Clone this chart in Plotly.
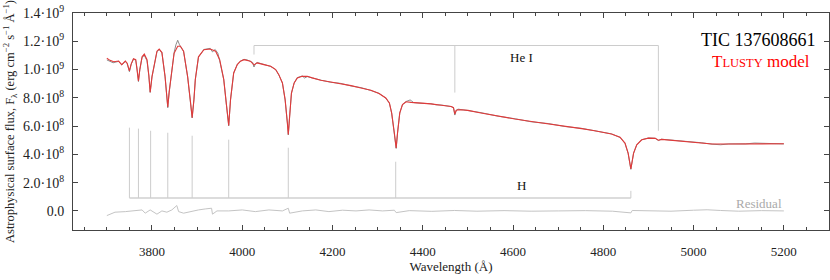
import plotly.graph_objects as go

SCALE = 1e8  # flux values below are in units of 1e8 erg cm^-2 s^-1 A^-1

# TLUSTY model spectrum
model_wave = [3700, 3707, 3715, 3726, 3733, 3741, 3745, 3750, 3754, 3759, 3764, 3767, 3770, 3773,
              3778, 3783, 3789, 3793, 3796, 3800, 3805, 3811, 3816, 3822, 3829, 3832, 3835, 3838,
              3842, 3849, 3857, 3863, 3870, 3879, 3885, 3889, 3893, 3896, 3903, 3915, 3929, 3941,
              3950, 3959, 3965, 3970, 3974, 3978, 3981, 3989, 3996, 4004, 4011, 4018, 4026, 4033,
              4048, 4063, 4074, 4081, 4089, 4095, 4100, 4102, 4105, 4109, 4115, 4122, 4133, 4144,
              4155, 4174, 4196, 4218, 4241, 4263, 4285, 4303, 4318, 4326, 4331, 4337, 4341, 4344,
              4349, 4355, 4363, 4374, 4396, 4418, 4441, 4463, 4468, 4471, 4474, 4478, 4485, 4500,
              4529, 4567, 4604, 4641, 4678, 4715, 4752, 4781, 4818, 4837, 4848, 4855, 4861, 4867,
              4874, 4885, 4900, 4915, 4922, 4929, 4966, 5003, 5018, 5041, 5078, 5115, 5152, 5200]
model_flux = [10.8, 10.65, 10.55, 10.6, 10.35, 10.6, 10.45, 9.9, 10.4, 10.76, 10.7, 10.1, 9.2, 10.0,
              10.9, 11.1, 10.7, 9.6, 8.4, 9.5, 10.45, 11.3, 11.45, 11.2, 9.5, 8.4, 7.35, 8.4,
              9.5, 11.15, 11.65, 11.65, 11.3, 9.5, 7.8, 6.6, 7.9, 9.3, 10.9, 11.4, 11.45, 11.3,
              10.7, 9.3, 7.5, 6.05, 7.87, 9.05, 9.76, 10.35, 10.59, 10.7, 10.66, 10.59, 10.33, 10.47,
              10.35, 10.23, 10.0, 9.64, 9.05, 7.87, 6.22, 5.4, 6.69, 8.34, 9.05, 9.41, 9.52, 9.52,
              9.41, 9.24, 9.12, 9.0, 8.86, 8.7, 8.53, 8.3, 7.99, 7.64, 6.93, 5.51, 4.45, 5.51,
              6.93, 7.52, 7.72, 7.68, 7.64, 7.57, 7.47, 7.39, 7.3, 6.85, 7.1, 7.15, 7.16, 7.11,
              6.93, 6.69, 6.5, 6.33, 6.17, 5.98, 5.82, 5.67, 5.44, 5.22, 4.8, 4.09, 2.98, 4.09,
              4.68, 5.03, 5.15, 5.13, 5.0, 5.06, 4.96, 4.84, 4.77, 4.73, 4.73, 4.75, 4.77, 4.75]

# Observed spectrum (TIC 137608661)
obs_wave = [3700, 3707, 3714, 3726, 3733, 3741, 3745, 3750, 3754, 3759, 3764, 3767, 3770, 3773,
            3778, 3783, 3789, 3793, 3796, 3800, 3805, 3811, 3816, 3822, 3829, 3832, 3835, 3838,
            3842, 3849, 3853, 3857, 3861, 3866, 3870, 3879, 3885, 3889, 3893, 3896, 3903, 3915,
            3929, 3934, 3940, 3946, 3950, 3959, 3965, 3970, 3974, 3978, 3981, 3989, 3996, 4004,
            4011, 4018, 4023, 4026, 4029, 4033, 4048, 4063, 4074, 4081, 4089, 4095, 4100, 4102,
            4105, 4109, 4115, 4122, 4133, 4138, 4144, 4155, 4174, 4196, 4218, 4241, 4263, 4285,
            4303, 4318, 4326, 4331, 4337, 4341, 4344, 4349, 4355, 4363, 4372, 4380, 4396, 4418,
            4430, 4441, 4463, 4468, 4471, 4474, 4478, 4485, 4500, 4529, 4550, 4567, 4604, 4641,
            4678, 4715, 4752, 4781, 4818, 4837, 4848, 4855, 4861, 4867, 4874, 4885, 4900, 4915,
            4922, 4929, 4966, 5003, 5018, 5041, 5060, 5078, 5115, 5135, 5152, 5180, 5200]
obs_flux = [10.68, 10.6, 10.48, 10.58, 10.33, 10.58, 10.42, 9.85, 10.38, 10.74, 10.66, 10.05, 9.15, 9.98,
            10.85, 11.0, 10.62, 9.55, 8.38, 9.48, 10.4, 11.25, 11.42, 11.2, 9.5, 8.35, 7.3, 8.35,
            9.5, 11.2, 11.75, 12.07, 11.75, 11.45, 11.28, 9.48, 7.78, 6.58, 7.88, 9.28, 10.88, 11.42,
            11.5, 11.25, 11.42, 11.15, 10.62, 9.28, 7.48, 6.02, 7.85, 9.05, 9.75, 10.36, 10.6, 10.72,
            10.68, 10.58, 10.5, 10.18, 10.4, 10.5, 10.38, 10.22, 10.0, 9.62, 9.05, 7.85, 6.2, 5.38,
            6.68, 8.32, 9.05, 9.43, 9.55, 9.4, 9.5, 9.4, 9.25, 9.1, 9.02, 8.84, 8.72, 8.52,
            8.32, 7.98, 7.62, 6.92, 5.48, 4.42, 5.5, 6.92, 7.52, 7.74, 7.85, 7.66, 7.62, 7.58,
            7.5, 7.49, 7.38, 7.3, 6.78, 7.12, 7.2, 7.18, 7.1, 6.95, 6.8, 6.7, 6.52, 6.3,
            6.18, 5.97, 5.84, 5.66, 5.45, 5.2, 4.78, 4.06, 2.94, 4.07, 4.67, 5.03, 5.16, 5.14,
            4.98, 5.07, 4.98, 4.88, 4.82, 4.72, 4.68, 4.74, 4.74, 4.8, 4.78, 4.8, 4.74]

# Residual (observed - model)
res_wave = [3700, 3718, 3741, 3763, 3778, 3785, 3796, 3811, 3822, 3833, 3844, 3855, 3859, 3870,
            3889, 3903, 3918, 3932, 3934, 3944, 3970, 4000, 4029, 4059, 4089, 4102, 4105, 4133,
            4163, 4192, 4222, 4252, 4281, 4311, 4337, 4341, 4370, 4420, 4470, 4520, 4580, 4640,
            4700, 4760, 4820, 4861, 4864, 4900, 4950, 5000, 5030, 5060, 5100, 5150, 5200]
res_flux = [-0.33, -0.09, -0.05, 0.0, 0.07, -0.16, 0.07, -0.23, 0.0, -0.09, 0.07, 0.38, -0.05, -0.16,
            0.0, 0.07, 0.14, 0.19, -0.23, 0.0, 0.0, 0.07, -0.05, 0.07, 0.0, 0.19, -0.16, 0.0,
            0.07, -0.05, 0.05, 0.0, 0.07, 0.0, 0.05, -0.12, 0.02, -0.03, 0.03, -0.02, 0.02, -0.02,
            0.0, 0.02, -0.02, -0.14, 0.03, 0.0, -0.02, 0.05, 0.08, 0.03, -0.02, 0.02, 0.0]

# Line identifications
h_lines = [3750, 3770, 3797, 3835, 3889, 3970, 4102, 4340, 4861]
h_tops = [5.89, 5.82, 5.67, 5.53, 5.32, 5.04, 4.47, 3.48, 1.42]
h_base = 0.92
he_lines = [4026, 4471, 4922]
he_bottoms = [11.06, 8.37, 5.67]
he_base = 11.7

x_ticks = [3800, 4000, 4200, 4400, 4600, 4800, 5000, 5200]
y_ticks = [0.0, 2.0, 4.0, 6.0, 8.0, 10.0, 12.0, 14.0]
y_ticktext = ["0.0", "2.0·10<sup>8</sup>", "4.0·10<sup>8</sup>", "6.0·10<sup>8</sup>",
              "8.0·10<sup>8</sup>", "1.0·10<sup>9</sup>", "1.2·10<sup>9</sup>", "1.4·10<sup>9</sup>"]

FONT = "Liberation Serif"

fig = go.Figure()
fig.add_trace(go.Scatter(x=res_wave, y=[v * SCALE for v in res_flux], mode="lines",
                         line=dict(color="#c4c4c4", width=1), name="Residual", showlegend=False))
fig.add_trace(go.Scatter(x=obs_wave, y=[v * SCALE for v in obs_flux], mode="lines",
                         line=dict(color="#707070", width=0.8), name="TIC 137608661", showlegend=False))
fig.add_trace(go.Scatter(x=model_wave, y=[v * SCALE for v in model_flux], mode="lines",
                         line=dict(color="#e03a3a", width=1.1), name="TLUSTY model",
                         showlegend=False))

shapes = []
# H bracket
shapes.append(dict(type="line", xref="x", yref="y", x0=h_lines[0], x1=h_lines[-1],
                   y0=h_base * SCALE, y1=h_base * SCALE, line=dict(color="#dcdcdc", width=2)))
for lam, top in zip(h_lines, h_tops):
    shapes.append(dict(type="line", xref="x", yref="y", x0=lam, x1=lam,
                       y0=h_base * SCALE, y1=top * SCALE, line=dict(color="#cccccc", width=1)))
# He I bracket
shapes.append(dict(type="line", xref="x", yref="y", x0=he_lines[0], x1=he_lines[-1],
                   y0=he_base * SCALE, y1=he_base * SCALE, line=dict(color="#cccccc", width=1)))
for lam, bot in zip(he_lines, he_bottoms):
    shapes.append(dict(type="line", xref="x", yref="y", x0=lam, x1=lam,
                       y0=he_base * SCALE, y1=bot * SCALE, line=dict(color="#cccccc", width=1)))

annotations = [
    dict(x=4618, y=10.85 * SCALE, xref="x", yref="y", text="He I", showarrow=False,
         font=dict(family=FONT, size=13, color="#111")),
    dict(x=4618, y=1.77 * SCALE, xref="x", yref="y", text="H", showarrow=False,
         font=dict(family=FONT, size=13, color="#111")),
    dict(x=5200, y=0.55 * SCALE, xref="x", yref="y", text="Residual", showarrow=False,
         xanchor="right", font=dict(family=FONT, size=13, color="#aaaaaa")),
    dict(x=0.985, y=0.93, xref="paper", yref="paper", text="TIC 137608661", showarrow=False,
         xanchor="right", font=dict(family=FONT, size=18, color="black")),
    dict(x=0.978, y=0.83, xref="paper", yref="paper",
         text="T<span style='font-size:12.5px'>LUSTY</span> model", showarrow=False,
         xanchor="right", font=dict(family=FONT, size=17, color="red")),
]

axis_common = dict(showgrid=False, zeroline=False, showline=True, linecolor="#444444",
                   linewidth=1, mirror="allticks", ticks="inside", tickcolor="#444444",
                   automargin=False)

fig.update_layout(
    width=830, height=280,
    margin=dict(l=73, r=1, t=13, b=50),
    plot_bgcolor="white", paper_bgcolor="white",
    shapes=shapes, annotations=annotations,
    xaxis=dict(range=[3625, 5300], tickvals=x_ticks, ticklen=5,
               ticklabelstandoff=9,
               tickfont=dict(family=FONT, size=13, color="#222222"),
               minor=dict(dtick=50, tick0=3600, ticks="inside", ticklen=3, tickcolor="#444444"),
               title=dict(text="Wavelength (Å)", font=dict(family=FONT, size=13, color="#222"),
                          standoff=3),
               **axis_common),
    yaxis=dict(range=[-1.35e8, 1.4e9], tickvals=[v * SCALE for v in y_ticks],
               ticktext=y_ticktext, ticklen=5, ticklabelstandoff=5,
               tickfont=dict(family=FONT, size=14, color="#222222"),
               title=dict(text="Astrophysical surface flux, F<sub>λ</sub> (erg cm<sup>−2</sup> s<sup>−1</sup> Å<sup>−1</sup>)",
                          font=dict(family=FONT, size=12.5, color="#222"), standoff=5),
               **axis_common),
)

fig.write_html("out.html", config={"displayModeBar": False},
               post_script="document.body.style.margin='0';document.body.style.overflow='hidden';")
